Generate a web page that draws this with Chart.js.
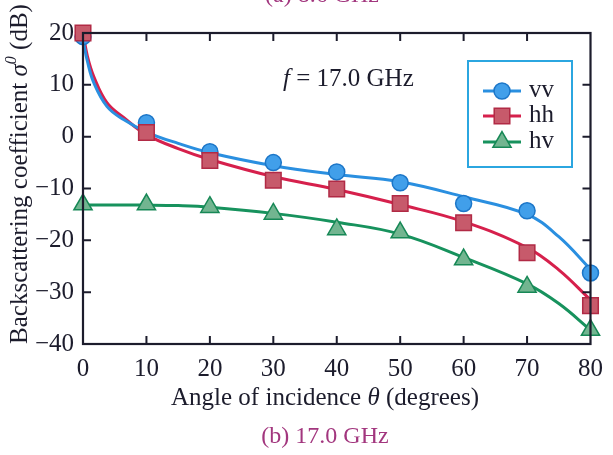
<!DOCTYPE html>
<html>
<head>
<meta charset="utf-8">
<script src="https://cdn.jsdelivr.net/npm/chart.js@4"></script>
<style>
  body { margin: 0; background: #fff; }
  #wrap { width: 613px; height: 455px; position: relative; }
</style>
</head>
<body>
<div id="wrap"><canvas id="chart"></canvas></div>
<script>
// measured points
const angles = [0, 10, 20, 30, 40, 50, 60, 70, 80];
const vvMeasured = [19.3, 2.7, -2.9, -5.0, -6.8, -8.9, -12.9, -14.3, -26.3];
const hhMeasured = [20.0, 0.8, -4.6, -8.4, -10.1, -12.9, -16.6, -22.4, -32.6];
const hvMeasured = [-13.1, -13.1, -13.6, -14.9, -17.9, -18.5, -23.7, -29.0, -37.3];

// fitted curves
const fitAngles = [0, 0.7, 1.7, 3.8, 6.4, 10, 15, 20, 30, 40, 50, 60, 70, 75, 80];
const vvFit = [18.7, 14.5, 10.4, 5.8, 3.3, 0.9, -1.3, -3.1, -5.6, -7.3, -8.7, -11.6, -15.0, -19.3, -25.6];
const hhFit = [20.0, 15.5, 11.6, 6.5, 3.7, 0.4, -2.3, -4.4, -7.7, -10.2, -13.1, -16.4, -21.4, -25.7, -31.5];
const hvFit = [-13.2, -13.2, -13.2, -13.2, -13.2, -13.2, -13.3, -13.6, -14.8, -16.5, -18.8, -23.3, -28.4, -32.2, -37.3];

const xTicks = [0, 10, 20, 30, 40, 50, 60, 70, 80];
const yTicks = [-40, -30, -20, -10, 0, 10, 20];
const seriesNames = ['vv', 'hh', 'hv'];

const FONT = '"Liberation Serif", "Times New Roman", serif';
const INK = '#1c1c2c';
const colors = {
    vv: { line: '#2a8fe0', fill: '#419fea', edge: '#1c76c8', style: 'circle', r: 8 },
    hh: { line: '#d6204c', fill: '#c75a6b', edge: '#b12a45', style: 'rect', r: 11 },
    hv: { line: '#17925d', fill: '#72b590', edge: '#178856', style: 'triangle', r: 10.5 }
};

function pairs(xs, ys) {
    const out = [];
    for (let i = 0; i < xs.length; i++) {
        out.push({ x: xs[i], y: ys[i] });
    }
    return out;
}

function fitSet(name, values) {
    return {
        label: name + ' fit',
        data: pairs(fitAngles, values),
        borderColor: colors[name].line,
        borderWidth: 3,
        pointRadius: 0,
        tension: 0.4,
        showLine: true,
        fill: false,
        clip: false,
        order: 10
    };
}

function pointSet(name, values) {
    const c = colors[name];
    return {
        label: name,
        data: pairs(angles, values),
        showLine: false,
        pointStyle: c.style,
        pointRadius: c.r,
        pointBackgroundColor: c.fill,
        pointBorderColor: c.edge,
        pointBorderWidth: 1.5,
        clip: false,
        order: 1
    };
}

function drawRich(ctx, parts, x, y, align) {
    // parts: [{text, italic, sup}]
    let total = 0;
    for (const p of parts) {
        ctx.font = (p.italic ? 'italic ' : '') + (p.sup ? '16px ' : '25px ') + FONT;
        p.w = ctx.measureText(p.text).width;
        total += p.w;
    }
    let cx = align === 'center' ? x - total / 2 : x;
    ctx.textAlign = 'left';
    ctx.textBaseline = 'alphabetic';
    for (const p of parts) {
        ctx.font = (p.italic ? 'italic ' : '') + (p.sup ? '16px ' : '25px ') + FONT;
        ctx.fillText(p.text, cx, p.sup ? y - 11 : y);
        cx += p.w;
    }
}

const decorations = {
    id: 'decorations',
    afterDraw(chart) {
        const ctx = chart.ctx;
        const a = chart.chartArea;
        const xs = chart.scales.x;
        const ys = chart.scales.y;
        ctx.save();

        // inward ticks on all four sides
        ctx.strokeStyle = INK;
        ctx.lineWidth = 2;
        ctx.beginPath();
        for (const t of xTicks) {
            if (t === xTicks[0] || t === xTicks[xTicks.length - 1]) continue;
            const px = xs.getPixelForValue(t);
            ctx.moveTo(px, a.bottom); ctx.lineTo(px, a.bottom - 8);
            ctx.moveTo(px, a.top); ctx.lineTo(px, a.top + 8);
        }
        for (const t of yTicks) {
            if (t === yTicks[0] || t === yTicks[yTicks.length - 1]) continue;
            const py = ys.getPixelForValue(t);
            ctx.moveTo(a.left, py); ctx.lineTo(a.left + 8, py);
            ctx.moveTo(a.right, py); ctx.lineTo(a.right - 8, py);
        }
        ctx.stroke();
        ctx.lineWidth = 2.2;
        ctx.strokeRect(a.left, a.top, a.right - a.left, a.bottom - a.top);

        // frequency note
        ctx.fillStyle = INK;
        drawRich(ctx, [{ text: 'f', italic: true }, { text: ' = 17.0 GHz' }], 283, 86, 'left');

        // legend
        const lx = 468, ly = 61, lw = 104, lh = 106;
        ctx.strokeStyle = '#2ba6e0';
        ctx.lineWidth = 2;
        ctx.strokeRect(lx, ly, lw, lh);
        const rows = [91, 116, 142];
        seriesNames.forEach((name, i) => {
            const c = colors[name];
            const y = rows[i];
            ctx.strokeStyle = c.line;
            ctx.lineWidth = 3;
            ctx.beginPath();
            ctx.moveTo(483, y); ctx.lineTo(521, y);
            ctx.stroke();
            ctx.fillStyle = c.fill;
            ctx.strokeStyle = c.edge;
            ctx.lineWidth = 1.5;
            Chart.helpers.drawPoint(ctx, { pointStyle: c.style, radius: c.r, borderWidth: 1.5 }, 502, y);
            ctx.fillStyle = INK;
            ctx.font = '25px ' + FONT;
            ctx.textAlign = 'left';
            ctx.textBaseline = 'middle';
            ctx.fillText(name, 529, y - 1);
        });

        // x axis title
        ctx.fillStyle = INK;
        drawRich(ctx, [
            { text: 'Angle of incidence ' },
            { text: 'θ', italic: true },
            { text: ' (degrees)' }
        ], 325, 405, 'center');

        // caption
        ctx.fillStyle = '#a2367e';
        ctx.font = '24px ' + FONT;
        ctx.textAlign = 'center';
        ctx.textBaseline = 'alphabetic';
        ctx.fillText('(b) 17.0 GHz', 325, 443);
        // cut-off caption of the panel above
        ctx.fillText('(a) 8.6 GHz', 322, 2);

        // y axis title
        ctx.save();
        ctx.translate(27, 174);
        ctx.rotate(-Math.PI / 2);
        ctx.fillStyle = INK;
        drawRich(ctx, [
            { text: 'Backscattering coefficient ' },
            { text: 'σ', italic: true },
            { text: '0', italic: true, sup: true },
            { text: ' (dB)' }
        ], 0, 0, 'center');
        ctx.restore();

        ctx.restore();
    }
};

const ctx = document.getElementById('chart');

new Chart(ctx, {
    type: 'scatter',
    data: {
        datasets: [
            fitSet('vv', vvFit),
            fitSet('hh', hhFit),
            fitSet('hv', hvFit),
            pointSet('hv', hvMeasured),
            pointSet('hh', hhMeasured),
            pointSet('vv', vvMeasured)
        ]
    },
    options: {
        responsive: true,
        maintainAspectRatio: false,
        animation: false,
        layout: { padding: { left: 0, top: 33, right: 16, bottom: 0 } },
        plugins: { legend: { display: false }, tooltip: { enabled: false } },
        scales: {
            x: {
                type: 'linear',
                min: 0, max: 80,
                afterFit: s => { s.height = 111; },
                afterBuildTicks: s => { s.ticks = xTicks.map(v => ({ value: v })); },
                grid: { display: false, drawTicks: false },
                border: { display: false },
                ticks: { color: INK, padding: 10, font: { family: FONT, size: 25 } }
            },
            y: {
                type: 'linear',
                min: -40, max: 20,
                afterFit: s => { s.width = 83; },
                afterBuildTicks: s => { s.ticks = yTicks.map(v => ({ value: v })); },
                grid: { display: false, drawTicks: false },
                border: { display: false },
                ticks: {
                    color: INK, padding: 9, font: { family: FONT, size: 25 },
                    callback: v => String(v).replace('-', '\u2212')
                }
            }
        }
    },
    plugins: [decorations]
});
</script>
</body>
</html>
